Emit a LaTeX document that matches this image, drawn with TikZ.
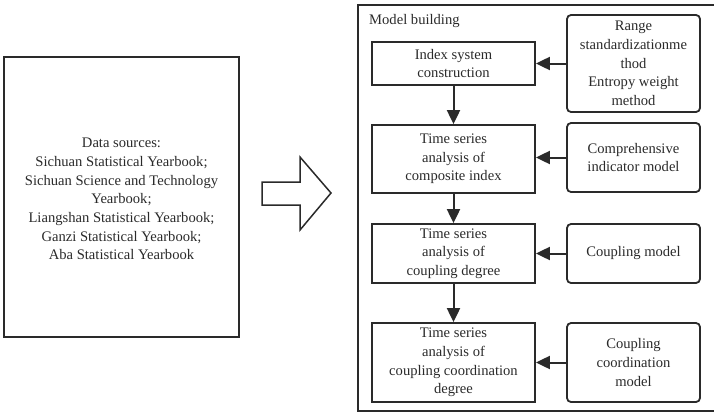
\documentclass[tikz,border=0pt]{standalone}
\usepackage{fontspec}
\setmainfont{Liberation Serif}
\usetikzlibrary{arrows.meta}
\definecolor{ink}{HTML}{2A2A2A}
\begin{document}
\begin{tikzpicture}[x=1pt,y=-1pt,
  every node/.style={font=\fontsize{14.6}{18.7}\selectfont, text=ink, align=center, inner sep=0pt},
  leftbox/.style={draw=ink, line width=1.8pt, minimum width=163pt},
  rightbox/.style={draw=ink, line width=1.8pt, rounded corners=4pt, minimum width=133pt},
  conn/.style={draw=ink, line width=2pt, -{Triangle[length=14pt,width=13pt]}}
]
\useasboundingbox (0,0) rectangle (714,415);
% data sources
\node[draw=ink, line width=1.5pt, minimum width=235pt, minimum height=280pt] (src) at (121.5,197) {};
\node (srctext) at (121.5,199) {Data sources:\\Sichuan Statistical Yearbook;\\Sichuan Science and Technology\\Yearbook;\\Liangshan Statistical Yearbook;\\Ganzi Statistical Yearbook;\\Aba Statistical Yearbook};
% hollow arrow
\draw[ink, line width=1.5pt, line join=miter] (262,182) -- (300,182) -- (300,157) -- (331,193) -- (300,230) -- (300,205) -- (262,205) -- cycle;
% outer frame
\node[draw=ink, line width=1.3pt, minimum width=390pt, minimum height=406pt] (frame) at (553,208) {};
\node[anchor=west] (mb) at (369,21) {Model building};
% left column
\node[leftbox, minimum height=43pt] (b1) at (453.5,63.5) {Index system\\construction};
\node[leftbox, minimum height=68pt] (b2) at (453.5,159) {Time series\\analysis of\\composite index};
\node[leftbox, minimum height=59pt] (b3) at (453.5,253.5) {Time series\\analysis of\\coupling degree};
\node[leftbox, minimum height=79pt] (b4) at (453.5,362.5) {Time series\\analysis of\\coupling coordination\\degree};
% right column
\node[rightbox, minimum height=97pt] (r1) at (633.5,63.5) {Range\\standardizationme\\thod\\Entropy weight\\method};
\node[rightbox, minimum height=69pt] (r2) at (633.5,157.5) {Comprehensive\\indicator model};
\node[rightbox, minimum height=59pt] (r3) at (633.5,253.5) {Coupling model};
\node[rightbox, minimum height=79pt] (r4) at (633.5,362.5) {Coupling\\coordination\\model};
% connectors
\draw[conn] (r1.west) -- (r1.west -| b1.east);
\draw[conn] (r2.west) -- (r2.west -| b2.east);
\draw[conn] (r3.west) -- (b3.east);
\draw[conn] (r4.west) -- (b4.east);
\draw[conn] (b1.south) -- (b2.north);
\draw[conn] (b2.south) -- (b3.north);
\draw[conn] (b3.south) -- (b4.north);
\end{tikzpicture}
\end{document}
